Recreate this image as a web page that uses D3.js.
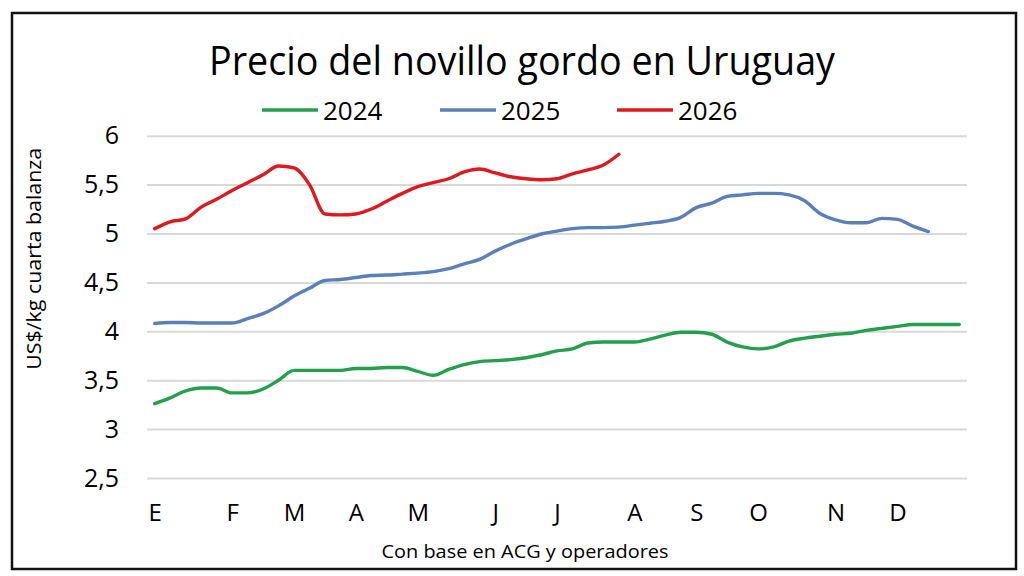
<!DOCTYPE html>
<html>
<head>
<meta charset="utf-8">
<script src="https://cdn.jsdelivr.net/npm/d3@7"></script>
<style>
  body { margin: 0; background: #fff; }
  text { font-family: "Open Sans", sans-serif; fill: #000; }
</style>
</head>
<body>
<div id="display"></div>
<script>
// weekly prices, one value per week of the year
const serie2024 = [3.26, 3.32, 3.39, 3.42, 3.42, 3.37, 3.37, 3.41, 3.50, 3.60,
    3.60, 3.60, 3.60, 3.62, 3.62, 3.63, 3.63, 3.59, 3.55, 3.61,
    3.66, 3.69, 3.70, 3.71, 3.73, 3.76, 3.80, 3.82, 3.88, 3.89,
    3.89, 3.89, 3.92, 3.96, 3.99, 3.99, 3.97, 3.89, 3.84, 3.82,
    3.84, 3.90, 3.93, 3.95, 3.97, 3.98, 4.01, 4.03, 4.05, 4.07,
    4.07, 4.07, 4.07];
const serie2025 = [4.08, 4.09, 4.09, 4.085, 4.085, 4.085, 4.13, 4.18, 4.26, 4.36,
    4.44, 4.52, 4.53, 4.55, 4.57, 4.575, 4.585, 4.595, 4.61, 4.64,
    4.69, 4.735, 4.82, 4.89, 4.945, 4.995, 5.025, 5.05, 5.06, 5.06,
    5.065, 5.085, 5.105, 5.125, 5.165, 5.265, 5.31, 5.38, 5.395, 5.41,
    5.41, 5.395, 5.335, 5.205, 5.14, 5.11, 5.11, 5.155, 5.145, 5.075,
    5.02];
const serie2026 = [5.05, 5.12, 5.15, 5.27, 5.35, 5.44, 5.52, 5.60, 5.69, 5.67,
    5.50, 5.20, 5.19, 5.20, 5.25, 5.33, 5.41, 5.48, 5.52, 5.56,
    5.63, 5.66, 5.62, 5.58, 5.56, 5.55, 5.56, 5.61, 5.65, 5.70,
    5.81];

const years = ["2024", "2025", "2026"];
const colors = ["#22a04e", "#5a80b9", "#dc1a20"];
const series = [serie2024, serie2025, serie2026];

const monthLabels = ["E", "F", "M", "A", "M", "J", "J", "A", "S", "O", "N", "D"];
const monthWeeks = [0, 5, 9, 13, 17, 22, 26, 31, 35, 39, 44, 48];
const yTicks = [2.5, 3, 3.5, 4, 4.5, 5, 5.5, 6];
const nWeeks = 53;

const W = 1024, H = 576;
const plot = {left: 147, right: 967, top: 135.7, bottom: 478};

const svg = d3.select('#display')
    .append('svg')
    .attr('width', W)
    .attr('height', H);

// outer frame
svg.append('rect')
    .attr('x', 12)
    .attr('y', 13)
    .attr('width', 1004)
    .attr('height', 556)
    .attr('fill', 'white')
    .attr('stroke', '#111')
    .attr('stroke-width', 2.5);

const x = d3.scaleLinear()
    .domain([-0.5, nWeeks - 0.5])
    .range([plot.left, plot.right]);

const y = d3.scaleLinear()
    .domain([2.5, 6])
    .range([plot.bottom, plot.top]);

// y axis with gridlines
const yAxis = svg.append('g')
    .attr('transform', `translate(${plot.left},0)`)
    .call(d3.axisLeft(y)
        .tickValues(yTicks)
        .tickSize(-(plot.right - plot.left))
        .tickPadding(28)
        .tickFormat(d => String(d).replace('.', ',')));
yAxis.select('.domain').remove();
yAxis.selectAll('line')
    .attr('stroke', '#d9d9d9')
    .attr('stroke-width', 2);
yAxis.selectAll('text')
    .attr('font-size', '25px')
    .attr('font-family', '"Open Sans", sans-serif')
    .attr('fill', '#000');

// x axis, month initials
const xAxis = svg.append('g')
    .attr('transform', `translate(0,${plot.bottom})`)
    .call(d3.axisBottom(x)
        .tickValues(monthWeeks)
        .tickSize(0)
        .tickPadding(26)
        .tickFormat((d, i) => monthLabels[i]));
xAxis.select('.domain').remove();
xAxis.selectAll('text')
    .attr('font-size', '24px')
    .attr('font-family', '"Open Sans", sans-serif')
    .attr('fill', '#000');

// lines
const line = d3.line()
    .x((d, i) => x(i))
    .y(d => y(d))
    .curve(d3.curveMonotoneX);

series.forEach((s, k) => {
    svg.append('path')
        .datum(s)
        .attr('d', line)
        .attr('fill', 'none')
        .attr('stroke', colors[k])
        .attr('stroke-width', 3.4)
        .attr('stroke-linejoin', 'round')
        .attr('stroke-linecap', 'round');
});

// title
svg.append('text')
    .attr('x', 522)
    .attr('y', 75)
    .attr('text-anchor', 'middle')
    .attr('font-size', '41px')
    .attr('textLength', 626)
    .attr('lengthAdjust', 'spacingAndGlyphs')
    .text('Precio del novillo gordo en Uruguay');

// legend
const legendX = [262, 440, 617];
years.forEach((yr, k) => {
    svg.append('line')
        .attr('x1', legendX[k])
        .attr('x2', legendX[k] + 56)
        .attr('y1', 110)
        .attr('y2', 110)
        .attr('stroke', colors[k])
        .attr('stroke-width', 3.4);
    svg.append('text')
        .attr('x', legendX[k] + 61)
        .attr('y', 110)
        .attr('dominant-baseline', 'central')
        .attr('font-size', '26px')
        .text(yr);
});

// y axis title
svg.append('text')
    .attr('transform', `translate(41,${(plot.top + plot.bottom) / 2 - 48}) rotate(-90)`)
    .attr('text-anchor', 'middle')
    .attr('font-size', '20px')
    .attr('textLength', 222)
    .attr('lengthAdjust', 'spacingAndGlyphs')
    .text('US$/kg cuarta balanza');

// source note
svg.append('text')
    .attr('x', 525)
    .attr('y', 558)
    .attr('text-anchor', 'middle')
    .attr('font-size', '19px')
    .attr('textLength', 287)
    .attr('lengthAdjust', 'spacingAndGlyphs')
    .text('Con base en ACG y operadores');
</script>
</body>
</html>
